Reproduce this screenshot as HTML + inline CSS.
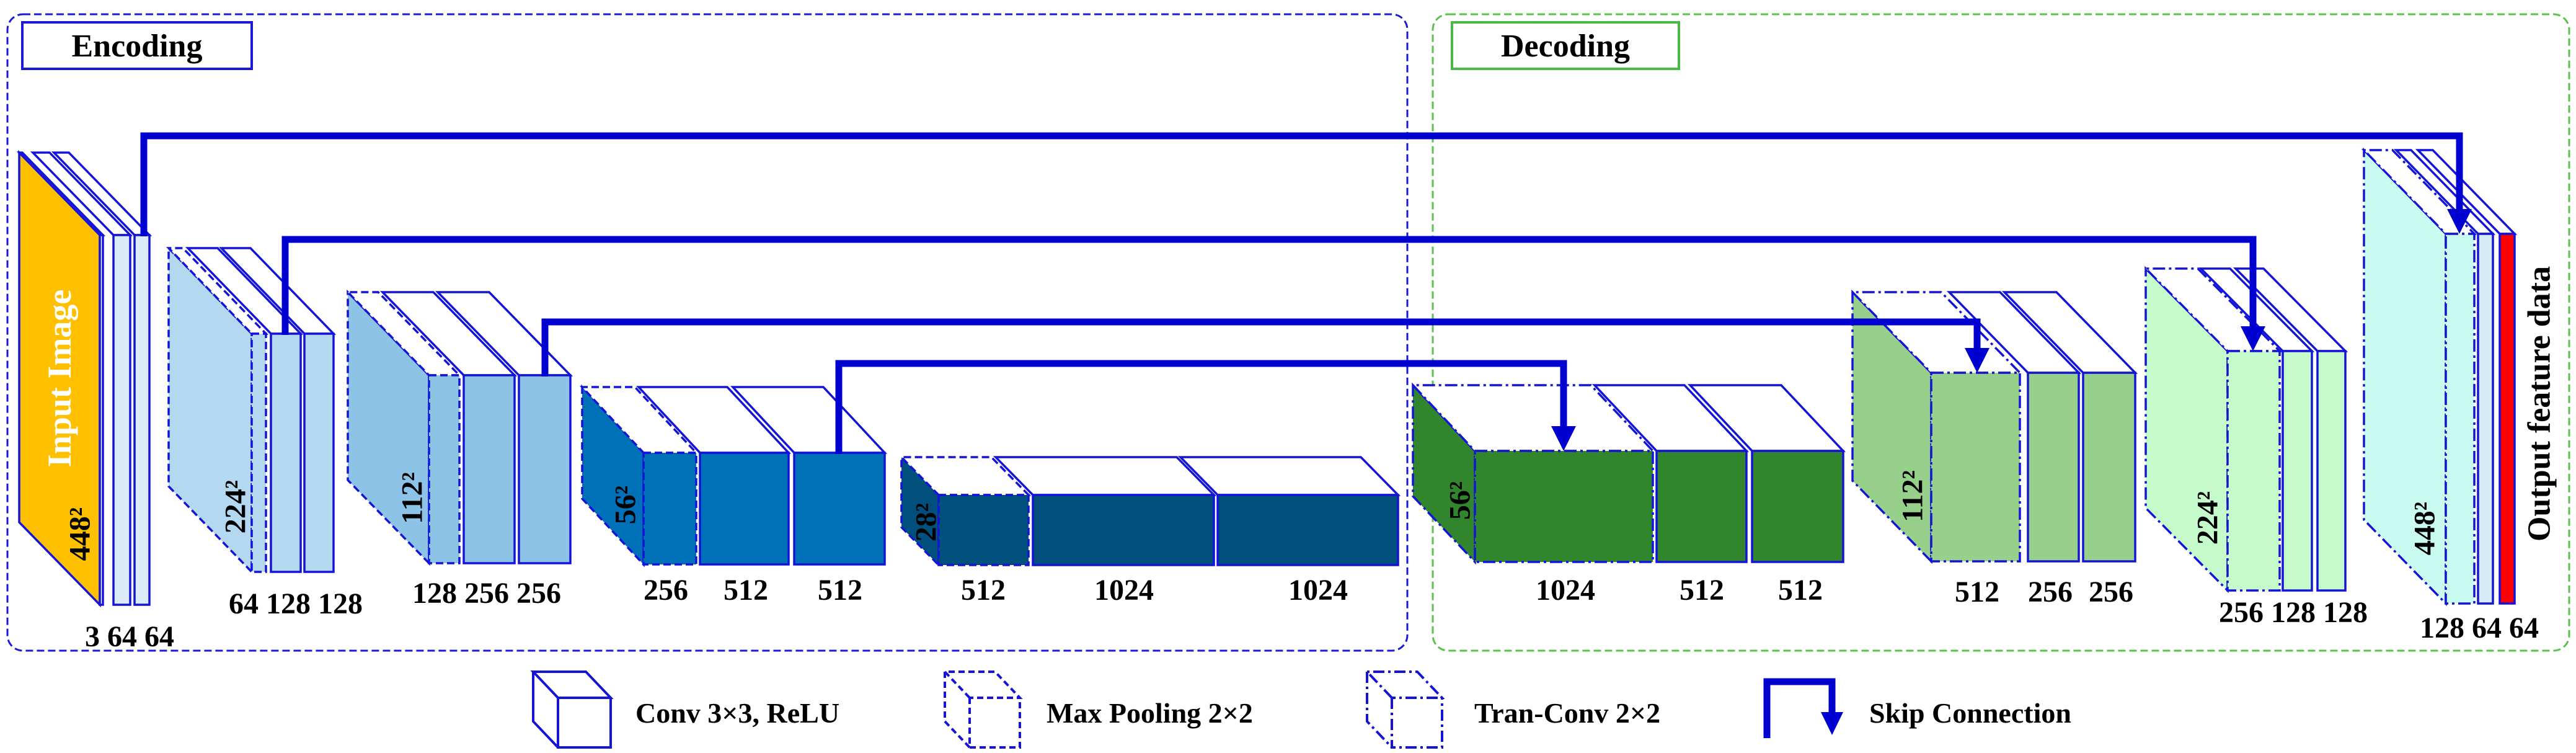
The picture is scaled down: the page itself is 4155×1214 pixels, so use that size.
<!DOCTYPE html>
<html><head><meta charset="utf-8">
<style>
html,body{margin:0;padding:0;background:#fff;}
svg{display:block;}
text{font-family:"Liberation Serif",serif;font-weight:bold;fill:#000;}
</style></head>
<body>
<svg id="s" width="4155" height="1214" viewBox="0 0 4155 1214" xmlns="http://www.w3.org/2000/svg">
<rect x="0" y="0" width="4155" height="1214" fill="#fff"/>
<rect x="12" y="23" width="2258" height="1026" rx="25" fill="none" stroke="#1a1ad6" stroke-width="3" stroke-dasharray="12 6"/>
<rect x="2311" y="23" width="1833" height="1026" rx="25" fill="none" stroke="#5cbf4e" stroke-width="3" stroke-dasharray="12 6"/>
<rect x="36" y="36" width="370" height="75" fill="#fff" stroke="#1a1ad6" stroke-width="4"/>
<text x="221" y="91" font-size="52" text-anchor="middle">Encoding</text>
<rect x="2342" y="36" width="366" height="75" fill="#fff" stroke="#4cb848" stroke-width="4"/>
<text x="2525" y="91" font-size="52" text-anchor="middle">Decoding</text>
<g id="shapes"></g>
<g id="lines"></g>
<!-- labels -->
<g font-size="48" text-anchor="middle">
<text x="209" y="1042">3 64 64</text>
<text x="477" y="989">64 128 128</text>
<text x="785" y="972">128 256 256</text>
<text x="1074" y="967">256</text><text x="1203" y="967">512</text><text x="1355" y="967">512</text>
<text x="1586" y="967">512</text><text x="1813" y="967">1024</text><text x="2126" y="967">1024</text>
<text x="2525" y="967">1024</text><text x="2745" y="967">512</text><text x="2904" y="967">512</text>
<text x="3189" y="970">512</text><text x="3307" y="970">256</text><text x="3405" y="970">256</text>
<text x="3699" y="1003">256 128 128</text>
<text x="3999" y="1028">128 64 64</text>
</g>
<g font-size="48" text-anchor="middle" dominant-baseline="central">
<text transform="translate(96,610) rotate(-90)" fill="#fff" style="fill:#fff" font-size="54">Input Image</text>
<text transform="translate(129,861) rotate(-90)">448²</text>
<text transform="translate(380,817) rotate(-90)">224²</text>
<text transform="translate(665,803) rotate(-90)">112²</text>
<text transform="translate(1009,814) rotate(-90)">56²</text>
<text transform="translate(1494,842) rotate(-90)">28²</text>
<text transform="translate(2355,807) rotate(-90)">56²</text>
<text transform="translate(3085,800) rotate(-90)">112²</text>
<text transform="translate(3561,835) rotate(-90)">224²</text>
<text transform="translate(3911,852) rotate(-90)">448²</text>
<text transform="translate(4096,651) rotate(-90)" font-size="52">Output feature data</text>
</g>
<!-- legend -->
<g fill="none" stroke="#1414d8" stroke-width="4">
<path d="M900 1125 L860 1083 L945 1083 L985 1125 Z M860 1083 L860 1163 L900 1205 M900 1125 L900 1205 L985 1205 L985 1125"/>
<path stroke-dasharray="10 6" d="M1564 1125 L1524 1083 L1605 1083 L1645 1125 Z M1524 1083 L1524 1163 L1564 1205 M1564 1125 L1564 1205 L1645 1205 L1645 1125"/>
<path stroke-dasharray="18 6 4 6" d="M2245 1125 L2205 1083 L2286 1083 L2326 1125 Z M2205 1083 L2205 1163 L2245 1205 M2245 1125 L2245 1205 L2326 1205 L2326 1125"/>
<path stroke="#0000d0" stroke-width="11" d="M2850 1190 L2850 1099 L2955 1099 L2955 1150"/>
</g>
<polygon points="2937,1148 2973,1148 2955,1185" fill="#0000d0"/>
<g font-size="46">
<text x="1025" y="1165">Conv 3×3, ReLU</text>
<text x="1688" y="1165">Max Pooling 2×2</text>
<text x="2378" y="1165">Tran-Conv 2×2</text>
<text x="3015" y="1165">Skip Connection</text>
</g>
</svg>
<script>
var NS="http://www.w3.org/2000/svg";
var G=document.getElementById('shapes'), L=document.getElementById('lines');
var ST="#1414d8";
function poly(par,pts,fill,dash,sw){var p=document.createElementNS(NS,'polygon');
p.setAttribute('points',pts.map(function(a){return a[0]+','+a[1]}).join(' '));
p.setAttribute('fill',fill);p.setAttribute('stroke',ST);p.setAttribute('stroke-width',sw||3.5);
p.setAttribute('stroke-linejoin','miter');
if(dash)p.setAttribute('stroke-dasharray',dash);par.appendChild(p);}
var DS={c:null,p:"12 6",t:"20 6 4 6"};
function group(y0,y1,dx,dy,fill,slabs,sideFill){
  var f=slabs[0];var x=f[0];
  poly(G,[[x,y0],[x-dx,y0-dy],[x-dx,y1-dy],[x,y1]],sideFill||fill,DS[f[2]]);
  slabs.forEach(function(s){
    var a=s[0],b=s[1],d=DS[s[2]],fl=s[3]||fill;
    poly(G,[[a,y0],[b,y0],[b-dx,y0-dy],[a-dx,y0-dy]],'#fff',d);
    poly(G,[[a,y0],[b,y0],[b,y1],[a,y1]],fl,d);
  });
}
group(379,975,130,133,'#dbeaf7',[[161,166,'c','#ffffff'],[183,210,'c'],[217,241,'c']],'#ffc000');
group(538,922,134,138,'#b4d8f0',[[406,429,'p'],[437,485,'c'],[491,538,'c']]);
group(605,908,131,134,'#8dc3e6',[[692,741,'p'],[748,830,'c'],[837,920,'c']]);
group(730,910,99,106,'#0070b8',[[1038,1123,'p'],[1129,1272,'c'],[1281,1427,'c']]);
group(798,911,60,61,'#004f7c',[[1514,1659,'p'],[1666,1958,'c'],[1964,2255,'c']]);
group(727,906,100,106,'#31852c',[[2379,2666,'t'],[2672,2817,'c'],[2826,2973,'c']]);
group(601,905,127,130,'#97d08a',[[3115,3258,'t'],[3271,3353,'c'],[3360,3444,'c']]);
group(566,952,132,133,'#c5fbcb',[[3593,3677,'t'],[3682,3729,'c'],[3738,3783,'c']]);
group(377,973,132,135,'#c9fbf1',[[3945,3991,'t'],[3997,4021,'c','#d6eaf8'],[4032,4056,'c','#ff0000']]);
function skip(xs,ys,y,xe,tip){
  var p=document.createElementNS(NS,'path');
  p.setAttribute('d','M'+xs+' '+ys+' L'+xs+' '+y+' L'+xe+' '+y+' L'+xe+' '+(tip-36));
  p.setAttribute('fill','none');p.setAttribute('stroke','#0000d0');p.setAttribute('stroke-width',11);
  L.appendChild(p);
  var t=document.createElementNS(NS,'polygon');
  t.setAttribute('points',(xe-20)+','+(tip-40)+' '+(xe+20)+','+(tip-40)+' '+xe+','+tip);
  t.setAttribute('fill','#0000d0');L.appendChild(t);
}
skip(232,381,219,3967,377);
skip(460,540,386,3634,566);
skip(879,607,519,3189,601);
skip(1353,732,586,2522,727);
</script>
</body></html>
